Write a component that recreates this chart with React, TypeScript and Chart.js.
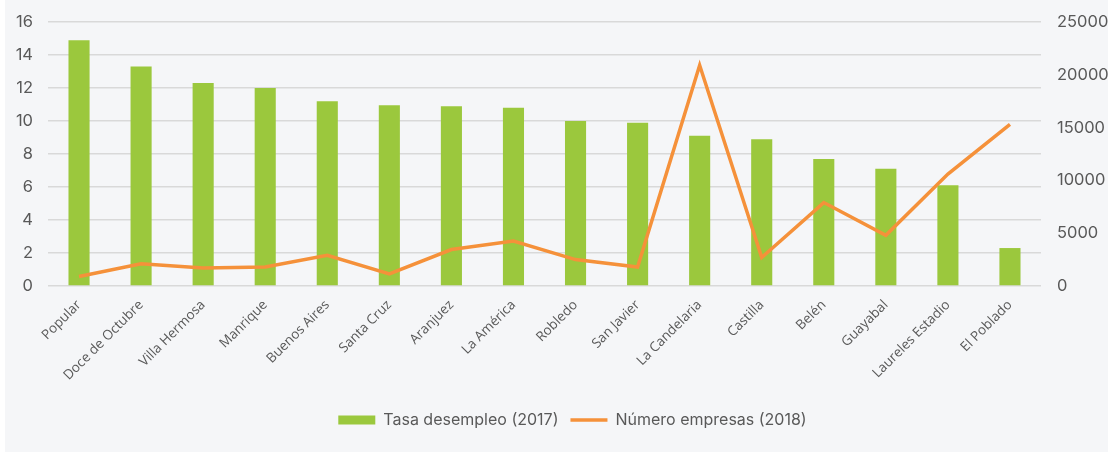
import React, { useEffect, useRef } from "react";
import { Chart, registerables } from "chart.js";

Chart.register(...registerables);

// ---- data ----
const categories = [
  "Popular",
  "Doce de Octubre",
  "Villa Hermosa",
  "Manrique",
  "Buenos Aires",
  "Santa Cruz",
  "Aranjuez",
  "La América",
  "Robledo",
  "San Javier",
  "La Candelaria",
  "Castilla",
  "Belén",
  "Guayabal",
  "Laureles Estadio",
  "El Poblado",
];
const tasaDesempleo2017 = [14.9, 13.3, 12.3, 12.0, 11.2, 10.95, 10.9, 10.8, 10.0, 9.9, 9.1, 8.9, 7.7, 7.1, 6.1, 2.3];
const numeroEmpresas2018 = [900, 2100, 1700, 1800, 2900, 1150, 3450, 4250, 2500, 1800, 20900, 2700, 7900, 4800, 10600, 15300];
const seriesLabels = ["Tasa desempleo (2017)", "Número empresas (2018)"];
const leftTicks = [0, 2, 4, 6, 8, 10, 12, 14, 16];
const rightTicks = [0, 5000, 10000, 15000, 20000, 25000];

const GREEN = "#9bc83d";
const ORANGE = "#f5913a";
const TEXT = "#595959";
const GRID = "#d9d9d9";
const BG = "#f5f6f8";

const W = 1103;
const H = 452;

const legendShift = {
  id: "legendShift",
  afterLayout(chart: any) {
    const l = chart.legend;
    if (l) {
      l.left += 16;
      l.right += 16;
    }
  },
};

export default function App() {
  const ref = useRef<HTMLCanvasElement | null>(null);

  useEffect(() => {
    document.body.style.margin = "0";
    const canvas = ref.current;
    if (!canvas) return;
    const chart = new Chart(canvas, {
      type: "bar",
      data: {
        labels: categories,
        datasets: [
          {
            type: "bar",
            label: seriesLabels[0],
            data: tasaDesempleo2017,
            backgroundColor: GREEN,
            borderWidth: 0,
            barPercentage: 0.34,
            categoryPercentage: 1,
            yAxisID: "y",
            order: 1,
          } as any,
          {
            type: "line",
            label: seriesLabels[1],
            data: numeroEmpresas2018,
            borderColor: ORANGE,
            backgroundColor: ORANGE,
            borderWidth: 3.5,
            pointRadius: 0,
            tension: 0,
            fill: false,
            yAxisID: "y1",
            order: 0,
          } as any,
        ],
      },
      plugins: [legendShift],
      options: {
        responsive: false,
        animation: false,
        devicePixelRatio: 1,
        layout: { padding: { top: 22, bottom: 14, left: 0, right: 0 } },
        plugins: {
          tooltip: { enabled: false },
          legend: {
            position: "bottom",
            labels: {
              usePointStyle: true,
              pointStyleWidth: 37,
              boxHeight: 9,
              padding: 12,
              color: TEXT,
              font: { family: "Inter", size: 16 },
              generateLabels: (chart: any) => {
                const ds = chart.data.datasets;
                return ds.map((d: any, i: number) => ({
                  text: d.label,
                  datasetIndex: i,
                  fillStyle: i === 0 ? GREEN : ORANGE,
                  strokeStyle: i === 0 ? GREEN : ORANGE,
                  lineWidth: i === 0 ? 0 : 3.5,
                  pointStyle: i === 0 ? "rect" : "line",
                  fontColor: TEXT,
                  hidden: false,
                }));
              },
            },
          },
        },
        scales: {
          x: {
            grid: { display: false, drawTicks: false },
            border: { display: false },
            ticks: {
              color: TEXT,
              font: { family: "Open Sans", size: 13.5 },
              minRotation: 45,
              maxRotation: 45,
              padding: 11,
              autoSkip: false,
            },
            afterFit: (s: any) => {
              s.height = 114;
            },
          },
          y: {
            position: "left",
            min: leftTicks[0],
            max: leftTicks[leftTicks.length - 1],
            afterBuildTicks: (s: any) => {
              s.ticks = leftTicks.map((v) => ({ value: v }));
            },
            grid: { color: GRID, lineWidth: 1.5, drawTicks: false },
            border: { display: false },
            ticks: {
              color: TEXT,
              font: { family: "Inter", size: 16.5 },
              padding: 15,
              callback: (v: any) => String(v),
            },
            afterFit: (s: any) => {
              s.width = 43;
              s.paddingTop = 0;
              s.paddingBottom = 0;
            },
          },
          y1: {
            position: "right",
            min: rightTicks[0],
            max: rightTicks[rightTicks.length - 1],
            afterBuildTicks: (s: any) => {
              s.ticks = rightTicks.map((v) => ({ value: v }));
            },
            grid: { display: false, drawTicks: false },
            border: { display: false },
            ticks: {
              color: TEXT,
              font: { family: "Inter", size: 16.5 },
              padding: 16,
              callback: (v: any) => String(v),
            },
            afterFit: (s: any) => {
              s.width = 67;
              s.paddingTop = 0;
              s.paddingBottom = 0;
            },
          },
        },
      },
    });
    return () => chart.destroy();
  }, []);

  return (
    <div style={{ width: 1108, height: H, background: "#ffffff", overflow: "hidden" }}>
      <div style={{ marginLeft: 5, width: W, height: H, background: BG }}>
        <canvas ref={ref} width={W} height={H} style={{ display: "block", width: W, height: H }} />
      </div>
    </div>
  );
}
